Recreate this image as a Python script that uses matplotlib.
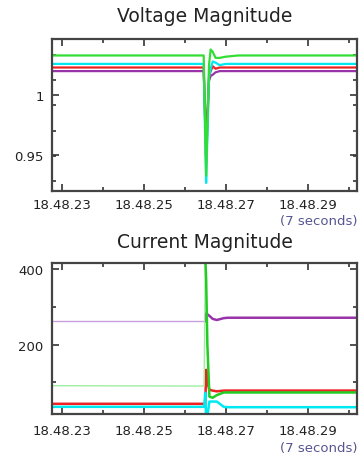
import matplotlib
matplotlib.use("Agg")
import matplotlib.pyplot as plt
import numpy as np
from matplotlib.ticker import FixedLocator, MultipleLocator

# time in seconds after 18:48:00
tick_secs = [23, 25, 27, 29]
tick_labels = ["18.48.23", "18.48.25", "18.48.27", "18.48.29"]

# voltage magnitude (pu)
t_v = [22.7, 26.46, 26.49, 26.52, 26.55, 26.59, 26.63, 26.68, 26.75, 26.85, 27.0, 27.3, 30.3]
v_green = [1.033, 1.033, 0.985, 0.933, 0.975, 1.025, 1.038, 1.036, 1.031, 1.031, 1.032, 1.033, 1.033]
v_cyan = [1.026, 1.026, 0.975, 0.927, 0.965, 1.015, 1.022, 1.028, 1.027, 1.025, 1.026, 1.026, 1.026]
v_red = [1.023, 1.023, 0.985, 0.945, 0.975, 1.015, 1.020, 1.024, 1.022, 1.023, 1.023, 1.023, 1.023]
v_purple = [1.020, 1.020, 0.990, 0.960, 0.985, 1.012, 1.016, 1.017, 1.019, 1.020, 1.020, 1.020, 1.020]

# current magnitude (A)
t_i = [22.7, 26.47, 26.50, 26.52, 26.55, 26.60, 26.68, 26.78, 26.95, 27.05, 30.3]
i_purple = [262, 262, 262, 282, 280, 276, 268, 265, 270, 271, 271]
i_green = [91, 90, 430, 373, 200, 62, 59, 66, 73, 73, 73]
i_red = [43, 43, 45, 133, 100, 80, 78, 76, 78, 78, 78]
i_cyan = [35, 35, 72, 0, 10, 49, 49, 49, 35, 34, 34]
t_event = 26.50

GREEN = "#33dd33"
CYAN = "#00e8f0"
RED = "#ee2222"
PURPLE = "#9933aa"

fig = plt.figure(figsize=(3.64, 4.56), dpi=100)
ax1 = fig.add_axes([52 / 364, 1 - 192 / 456, 305 / 364, 152 / 456])
ax2 = fig.add_axes([52 / 364, 1 - 415 / 456, 305 / 364, 151 / 456])


def style(ax, xpad, note_y):
    for s in ax.spines.values():
        s.set_linewidth(1.6)
        s.set_color("#444444")
    ax.set_xlim(22.76, 30.2)
    ax.xaxis.set_major_locator(FixedLocator(tick_secs))
    ax.set_xticklabels(tick_labels)
    ax.xaxis.set_minor_locator(MultipleLocator(1))
    ax.tick_params(which="both", direction="in", top=True, right=True,
                   color="#333333", width=1.2, labelsize=9.5, labelcolor="#222222")
    ax.tick_params(which="major", length=5)
    ax.tick_params(which="minor", length=3)
    ax.tick_params(axis="x", which="major", pad=xpad)
    ax.tick_params(axis="y", which="major", pad=6)
    fig.text(358 / 364, 1 - note_y / 456, "(7 seconds)", ha="right", va="center",
             fontsize=9.5, color="#555590")


# voltage
ax1.plot(t_v, v_purple, color=PURPLE, lw=1.6)
ax1.plot(t_v, v_red, color=RED, lw=1.6)
ax1.plot(t_v, v_cyan, color=CYAN, lw=1.6)
ax1.plot(t_v, v_green, color=GREEN, lw=1.6)
ax1.set_ylim(0.9203, 1.0467)
ax1.set_yticks([0.95, 1.0])
ax1.set_yticklabels(["0.95", "1"])
ax1.yaxis.set_minor_locator(FixedLocator(np.arange(0.929, 1.045, 0.0208)))
style(ax1, 5, 222)

# current: thinner, lighter traces before the event for purple and green
t_i = np.array(t_i)
pre = t_i <= t_event
post = t_i >= t_event
ax2.plot(t_i[pre], np.array(i_purple)[pre], color="#c9a0dc", lw=1.0)
ax2.plot(t_i[post], np.array(i_purple)[post], color=PURPLE, lw=1.8)
ax2.plot(t_i, i_red, color=RED, lw=1.8)
ax2.plot(t_i[pre], np.array(i_green)[pre], color="#a0eea0", lw=1.0)
ax2.plot(t_i[post], np.array(i_green)[post], color="#22cc22", lw=1.8)
ax2.plot(t_i, i_cyan, color=CYAN, lw=1.8)
ax2.set_ylim(16, 416)
ax2.set_yticks([200, 400])
ax2.yaxis.set_minor_locator(FixedLocator([100, 300]))
style(ax2, 7, 449)

fig.text(204.5 / 364, 1 - 17 / 456, "Voltage Magnitude", ha="center", va="center",
         fontsize=13.5, color="#222222")
fig.text(204.5 / 364, 1 - 243 / 456, "Current Magnitude", ha="center", va="center",
         fontsize=13.5, color="#222222")

fig.savefig("out.png", dpi=100, facecolor="white")
